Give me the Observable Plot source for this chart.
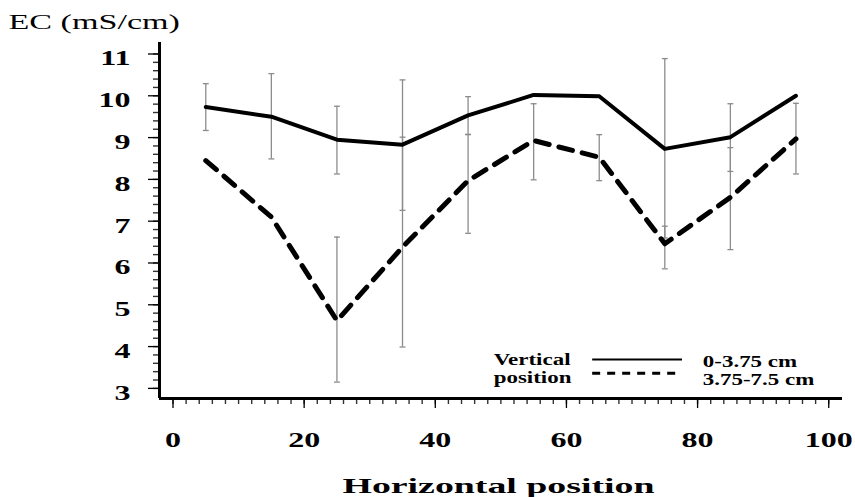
<!DOCTYPE html>
<html><head><meta charset="utf-8">
<script src="https://cdn.jsdelivr.net/npm/d3@7"></script>
<script src="https://cdn.jsdelivr.net/npm/@observablehq/plot@0.6"></script>
<style>body{margin:0;background:#fff} svg{display:block}</style>
</head><body><div id="chart"></div>
<script>
const positions = [5, 15, 25, 35, 45, 55, 65, 75, 85, 95];
const ecShallow = [9.73, 9.50, 8.95, 8.83, 9.53, 10.02, 9.99, 8.73, 9.01, 10.0];
const ecDeep = [8.45, 7.10, 4.62, 6.38, 7.97, 8.93, 8.53, 6.46, 7.57, 8.97];
const shallowLow = [9.17, 8.49, 8.13, 7.26, 9.08, null, null, 6.6, 8.19, null];
const shallowHigh = [10.29, 10.53, 9.75, 10.38, 9.98, null, null, 10.89, 9.81, null];
const deepLow = [null, null, 3.15, 3.99, 6.71, 7.99, 7.97, 5.86, 6.32, 8.13];
const deepHigh = [null, null, 6.62, 9.01, 9.07, 9.81, 9.07, 6.88, 8.76, 9.82];
const xTicks = [0, 20, 40, 60, 80, 100];
const xMinorTicks = d3.range(0, 101, 2);
const yTicks = [3, 4, 5, 6, 7, 8, 9, 10, 11];
const yMinorTicks = d3.range(0, 41).map(i => 3 + i * 0.2);
const legendTitle = ["Vertical", "position"];
const seriesLabels = ["0-3.75 cm", "3.75-7.5 cm"];
const yTitle = "EC (mS/cm)";
const xTitle = "Horizontal position";

const shallow = positions.map((x, i) => ({x, y: ecShallow[i], lo: shallowLow[i], hi: shallowHigh[i]}));
const deep = positions.map((x, i) => ({x, y: ecDeep[i], lo: deepLow[i], hi: deepHigh[i]}));
const bars = [...shallow, ...deep].filter(d => d.lo != null);

const serif = "'Liberation Serif', 'Times New Roman', serif";
const xDom = [-2.06, 102.1], yDom = [2.758, 11.275];
const barColor = "#8c8c8c";
const W = 855, H = 497, mL = 159, mR = 13, mT = 42, mB = 99;
const frameW = W - mL - mR, frameH = H - mT - mB;

const svg = Plot.plot({
  width: W, height: H,
  marginLeft: mL, marginRight: mR, marginTop: mT, marginBottom: mB,
  style: {background: "white", color: "black", fontFamily: serif, overflow: "visible"},
  x: {domain: xDom, label: null},
  y: {domain: yDom, label: null},
  marks: [
    // error bars
    Plot.ruleX(bars, {x: "x", y1: "lo", y2: "hi", stroke: barColor, strokeWidth: 1.3}),
    Plot.link(bars, {x1: d => d.x - 0.45, x2: d => d.x + 0.45, y1: "lo", y2: "lo", stroke: barColor, strokeWidth: 1.3}),
    Plot.link(bars, {x1: d => d.x - 0.45, x2: d => d.x + 0.45, y1: "hi", y2: "hi", stroke: barColor, strokeWidth: 1.3}),
    // series
    Plot.line(shallow, {x: "x", y: "y", stroke: "black", strokeWidth: 4}),
    Plot.line(deep, {x: "x", y: "y", stroke: "black", strokeWidth: 5, strokeDasharray: "14,10"}),
    // minor ticks (below / left of the axis lines)
    Plot.axisX({ticks: xMinorTicks, tickSize: 6, tickFormat: null, text: null, label: null, stroke: "#333", strokeWidth: 1.4}),
    Plot.axisY({ticks: yMinorTicks, tickSize: 6, tickFormat: null, text: null, label: null, stroke: "#333", strokeWidth: 1.4}),
    // axes lines
    Plot.ruleX([xDom[0]], {stroke: "black", strokeWidth: 3}),
    Plot.ruleY([yDom[0]], {stroke: "black", strokeWidth: 3}),
    // major ticks & labels
    Plot.axisX({ticks: xTicks, tickSize: 10, tickPadding: 24, tickFormat: d => String(d), label: null,
      fontSize: 20, fontWeight: "bold", fontFamily: serif, strokeWidth: 1.3}),
    Plot.axisY({ticks: yTicks, tickSize: 11, label: null, tickFormat: () => "", strokeWidth: 1.3}),
    Plot.axisY({ticks: yTicks, tickSize: 0, tickPadding: 29, dy: 5, tickFormat: d => String(d), label: null,
      fontSize: 20, fontWeight: "bold", fontFamily: serif}),
    // titles
    Plot.text([yTitle], {frameAnchor: "top-left", text: d => d, dx: -151, dy: -21, textAnchor: "start",
      lineAnchor: "middle", fontSize: 22, fontFamily: serif, fill: "black"}),
    Plot.text([xTitle], {frameAnchor: "bottom", text: d => d, dx: -2.5, dy: 87, textAnchor: "middle",
      lineAnchor: "middle", fontSize: 22, fontWeight: "bold", fontFamily: serif, fill: "black"}),
    // legend
    Plot.text(legendTitle, {x: () => 48.9, y: (d, i) => [3.68, 3.25][i], text: d => d, textAnchor: "start",
      lineAnchor: "middle", fontSize: 17, fontWeight: "bold", fontFamily: serif, fill: "black"}),
    Plot.text(seriesLabels, {x: () => 80.8, y: (d, i) => [3.63, 3.22][i], text: d => d, textAnchor: "start",
      lineAnchor: "middle", fontSize: 17, fontWeight: "bold", fontFamily: serif, fill: "black"}),
    Plot.ruleY([3.69], {x1: 64.0, x2: 77.7, stroke: "black", strokeWidth: 2}),
    Plot.ruleY([3.36], {x1: 64.0, x2: 77.2, stroke: "black", strokeWidth: 3, strokeDasharray: "8,7"})
  ]
});

// emulate the horizontally stretched lettering of the original
const stretchByText = new Map([[yTitle, 1.55], [xTitle, 1.72]]);
legendTitle.concat(seriesLabels).forEach(t => stretchByText.set(t, 1.35));
d3.select(svg).selectAll("text").each(function() {
  const g = this.closest("g[aria-label]");
  const lab = g ? g.getAttribute("aria-label") : "";
  let s = stretchByText.get(this.textContent.trim());
  if (!s && /tick label/.test(lab)) s = 1.6;
  if (!s) return;
  const t = this.getAttribute("transform") || "";
  this.setAttribute("transform", t + ` scale(${s},1)`);
});

document.getElementById("chart").appendChild(svg);
</script>
</body></html>
